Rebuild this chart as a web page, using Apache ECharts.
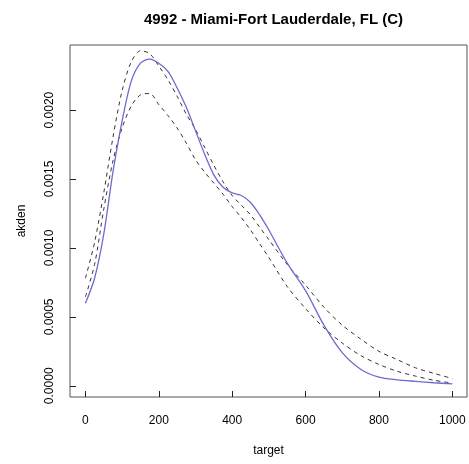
<!DOCTYPE html>
<html>
<head>
<meta charset="utf-8">
<script src="https://cdn.jsdelivr.net/npm/echarts@6/dist/echarts.min.js"></script>
<style>html,body{margin:0;padding:0;background:#fff}#c{width:469px;height:464px}</style>
</head>
<body>
<div id="c"></div>
<script>
var titleText = "4992 - Miami-Fort Lauderdale, FL (C)";
var xName = "target";
var yName = "akden";
var xTicks = [0, 200, 400, 600, 800, 1000];
var yTicks = [0, 0.0005, 0.0010, 0.0015, 0.0020];
var xs = [0, 25, 50, 75, 100, 125, 150, 175, 200, 225, 250, 275, 300, 325, 350, 375, 400, 425, 450, 475, 500, 550, 600, 650, 700, 750, 800, 850, 900, 950, 1000];
var estimate = [0.000598, 0.00078, 0.00110, 0.00155, 0.00192, 0.00221, 0.00234, 0.00237, 0.00234, 0.00228, 0.00216, 0.00202, 0.00185, 0.00168, 0.00153, 0.00144, 0.00140, 0.00138, 0.00133, 0.00124, 0.00113, 0.00089, 0.00069, 0.00044, 0.00024, 0.00012, 0.000062, 0.000043, 0.000032, 0.000022, 0.000014];
var upperBand = [0.00078, 0.00104, 0.00140, 0.00180, 0.00214, 0.00235, 0.00243, 0.00241, 0.00232, 0.00222, 0.00210, 0.00197, 0.00186, 0.00173, 0.00160, 0.00148, 0.00138, 0.00131, 0.00124, 0.00115, 0.00106, 0.00088, 0.00073, 0.00057, 0.00044, 0.00034, 0.00025, 0.00019, 0.00013, 0.00009, 0.000053];
var lowerBand = [0.000645, 0.00088, 0.00128, 0.00163, 0.00187, 0.00203, 0.00211, 0.00212, 0.00204, 0.00196, 0.00187, 0.00176, 0.00164, 0.00155, 0.00147, 0.00139, 0.00130, 0.00122, 0.00113, 0.00103, 0.00093, 0.00072, 0.00056, 0.00042, 0.00031, 0.00022, 0.000155, 0.000105, 0.00007, 0.00004, 0.00002];

function pairs(ys){ return xs.map(function(x,i){ return [x, ys[i]]; }); }

var font = "'Liberation Sans', Arial, Helvetica, sans-serif";
var chart = echarts.init(document.getElementById('c'), null, {renderer:'canvas'});
chart.setOption({
  backgroundColor: '#ffffff',
  animation: false,
  title: {
    text: titleText,
    left: 268.5, top: 7, textAlign: 'center',
    textStyle: {fontFamily: font, fontSize: 15, fontWeight: 'bold', color: '#000'}
  },
  grid: {left: 70, right: 2, top: 45, bottom: 67, show: true, borderColor: '#555', borderWidth: 1, backgroundColor: 'transparent'},
  xAxis: {
    type: 'value', min: -42, max: 1040,
    name: xName, nameLocation: 'middle', nameGap: 48,
    nameTextStyle: {fontFamily: font, fontSize: 12, color: '#000'},
    axisLine: {show: false, onZero: false},
    axisTick: {show: true, inside: true, length: 6, customValues: xTicks, lineStyle: {color: '#222', width: 1}},
    axisLabel: {customValues: xTicks, margin: 18, fontFamily: font, fontSize: 12, color: '#000',
      formatter: function(v){ return String(v); }},
    splitLine: {show: false}
  },
  yAxis: {
    type: 'value', min: -0.0000813, max: 0.002472,
    name: yName, nameLocation: 'middle', nameGap: 42, nameRotate: 90,
    nameTextStyle: {fontFamily: font, fontSize: 12, color: '#000'},
    axisLine: {show: false, onZero: false},
    axisTick: {show: true, inside: true, length: 6, customValues: yTicks, lineStyle: {color: '#222', width: 1}},
    axisLabel: {customValues: yTicks, margin: 14, rotate: 90, fontFamily: font, fontSize: 12, color: '#000',
      formatter: function(v){ return v.toFixed(4); }},
    splitLine: {show: false}
  },
  series: [
    {type: 'line', data: pairs(upperBand), smooth: 0.3, showSymbol: false, lineStyle: {color: '#333', width: 1, type: [4,4]}},
    {type: 'line', data: pairs(lowerBand), smooth: 0.3, showSymbol: false, lineStyle: {color: '#333', width: 1, type: [4,4]}},
    {type: 'line', data: pairs(estimate), smooth: 0.3, showSymbol: false, lineStyle: {color: '#6b6bd0', width: 1.3}}
  ]
});
</script>
</body>
</html>
